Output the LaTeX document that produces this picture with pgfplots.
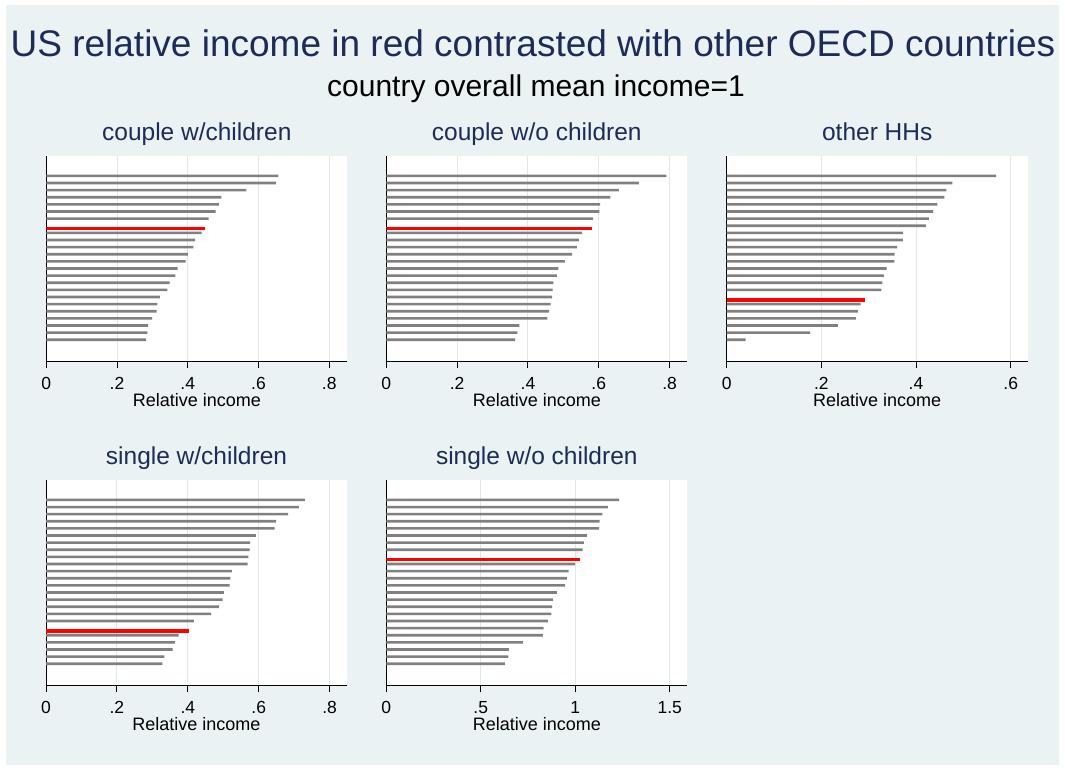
\documentclass[border=0pt]{standalone}
\usepackage{fontspec}
\setmainfont{Liberation Sans}
\usepackage{pgfplots}
\pgfplotsset{compat=1.18}

\definecolor{bgblue}{RGB}{234,242,243}
\definecolor{navytitle}{RGB}{28,44,86}
\definecolor{bargray}{RGB}{128,128,128}
\definecolor{gridblue}{RGB}{222,232,237}
\definecolor{usred}{RGB}{255,0,0}

\pgfplotsset{
  panel/.style={
    scale only axis, width=301pt, height=206pt,
    anchor=south west,
    axis background/.style={fill=white},
    axis x line*=bottom, axis y line*=left,
    axis line style={black, line width=1pt, -},
    ymin=-2.13, ymax=26.8,
    ytick=\empty,
    xmin=0,
    tick align=outside, major tick length=6.5pt,
    xtick style={black, line width=1pt},
    xmajorgrids, grid style={gridblue, line width=1pt},
    /pgf/number format/assume math mode=true,
    xticklabel style={font=\fontsize{17.5}{17.5}\selectfont, yshift=-5pt},
    xlabel={Relative income},
    xlabel style={font=\fontsize{18}{18}\selectfont,
      at={(axis description cs:0.5,0)}, anchor=base, yshift=-44.7pt},
    title style={font=\fontsize{24.5}{24.5}\selectfont, color=navytitle,
      at={(axis description cs:0.5,1)}, anchor=base, yshift=9pt},
  },
  others/.style={xbar, bar shift=0pt, bar width=2.6pt, fill=bargray, draw=none},
  us/.style={xbar, bar shift=0pt, bar width=3.5pt, fill=usred, draw=none},
}

\begin{document}
\begin{tikzpicture}
\path[use as bounding box] (0,0) rectangle (1065pt,770pt);
\fill[white] (0,0) rectangle (1065pt,770pt);
\fill[bgblue] (6pt,5pt) rectangle (1059pt,765pt);

\node[anchor=base, font=\fontsize{37}{37}\selectfont, color=navytitle]
  at (533pt,713.3pt) {US relative income in red contrasted with other OECD countries};
\node[anchor=base, font=\fontsize{30}{30}\selectfont, color=black]
  at (536pt,673pt) {country overall mean income=1};

% couple with children
\begin{axis}[panel, at={(46.3pt,408pt)}, xmax=0.851,
  xtick={0,0.2,0.4,0.6,0.8}, xticklabels={0,.2,.4,.6,.8},
  title={couple w/children}]
\addplot[others] coordinates {
  (0.656,24) (0.650,23) (0.566,22) (0.495,21) (0.488,20) (0.479,19) (0.459,18)
  (0.439,16) (0.421,15) (0.416,14) (0.400,13) (0.394,12) (0.371,11) (0.365,10)
  (0.349,9) (0.342,8) (0.321,7) (0.314,6) (0.312,5) (0.299,4) (0.288,3)
  (0.286,2) (0.282,1)};
\addplot[us] coordinates {(0.448,16.6)};
\end{axis}

% couple without children
\begin{axis}[panel, at={(386.3pt,408pt)}, xmax=0.850,
  xtick={0,0.2,0.4,0.6,0.8}, xticklabels={0,.2,.4,.6,.8},
  title={couple w/o children}]
\addplot[others] coordinates {
  (0.791,24) (0.713,23) (0.657,22) (0.633,21) (0.604,20) (0.602,19) (0.584,18)
  (0.553,16) (0.544,15) (0.538,14) (0.525,13) (0.504,12) (0.486,11) (0.482,10)
  (0.472,9) (0.470,8) (0.468,7) (0.464,6) (0.460,5) (0.455,4) (0.376,3)
  (0.370,2) (0.364,1)};
\addplot[us] coordinates {(0.580,16.6)};
\end{axis}

% other households
\begin{axis}[panel, at={(726.7pt,408pt)}, xmax=0.636,
  xtick={0,0.2,0.4,0.6}, xticklabels={0,.2,.4,.6},
  title={other HHs}]
\addplot[others] coordinates {
  (0.569,24) (0.477,23) (0.464,22) (0.460,21) (0.445,20) (0.436,19) (0.427,18)
  (0.421,17) (0.373,16) (0.372,15) (0.360,14) (0.355,13) (0.354,12) (0.338,11)
  (0.332,10) (0.329,9) (0.327,8)
  (0.283,6) (0.277,5) (0.273,4) (0.235,3) (0.176,2) (0.040,1)};
\addplot[us] coordinates {(0.293,6.6)};
\end{axis}

% single with children
\begin{axis}[panel, at={(46pt,84pt)}, xmax=0.849,
  xtick={0,0.2,0.4,0.6,0.8}, xticklabels={0,.2,.4,.6,.8},
  title={single w/children}]
\addplot[others] coordinates {
  (0.730,24) (0.713,23) (0.683,22) (0.649,21) (0.645,20) (0.592,19) (0.576,18)
  (0.574,17) (0.571,16) (0.569,15) (0.524,14) (0.520,13) (0.518,12) (0.502,11)
  (0.498,10) (0.488,9) (0.466,8) (0.417,7)
  (0.374,5) (0.364,4) (0.357,3) (0.334,2) (0.328,1)};
\addplot[us] coordinates {(0.403,5.6)};
\end{axis}

% single without children
\begin{axis}[panel, at={(386.3pt,84pt)}, xmax=1.593,
  xtick={0,0.5,1,1.5}, xticklabels={0,.5,1,1.5},
  title={single w/o children}]
\addplot[others] coordinates {
  (1.232,24) (1.172,23) (1.143,22) (1.129,21) (1.126,20) (1.062,19) (1.045,18)
  (1.039,17)
  (0.999,15) (0.965,14) (0.955,13) (0.946,12) (0.903,11) (0.881,10) (0.877,9)
  (0.873,8) (0.856,7) (0.833,6) (0.829,5) (0.724,4) (0.649,3) (0.646,2)
  (0.628,1)};
\addplot[us] coordinates {(1.025,15.6)};
\end{axis}
\end{tikzpicture}
\end{document}
